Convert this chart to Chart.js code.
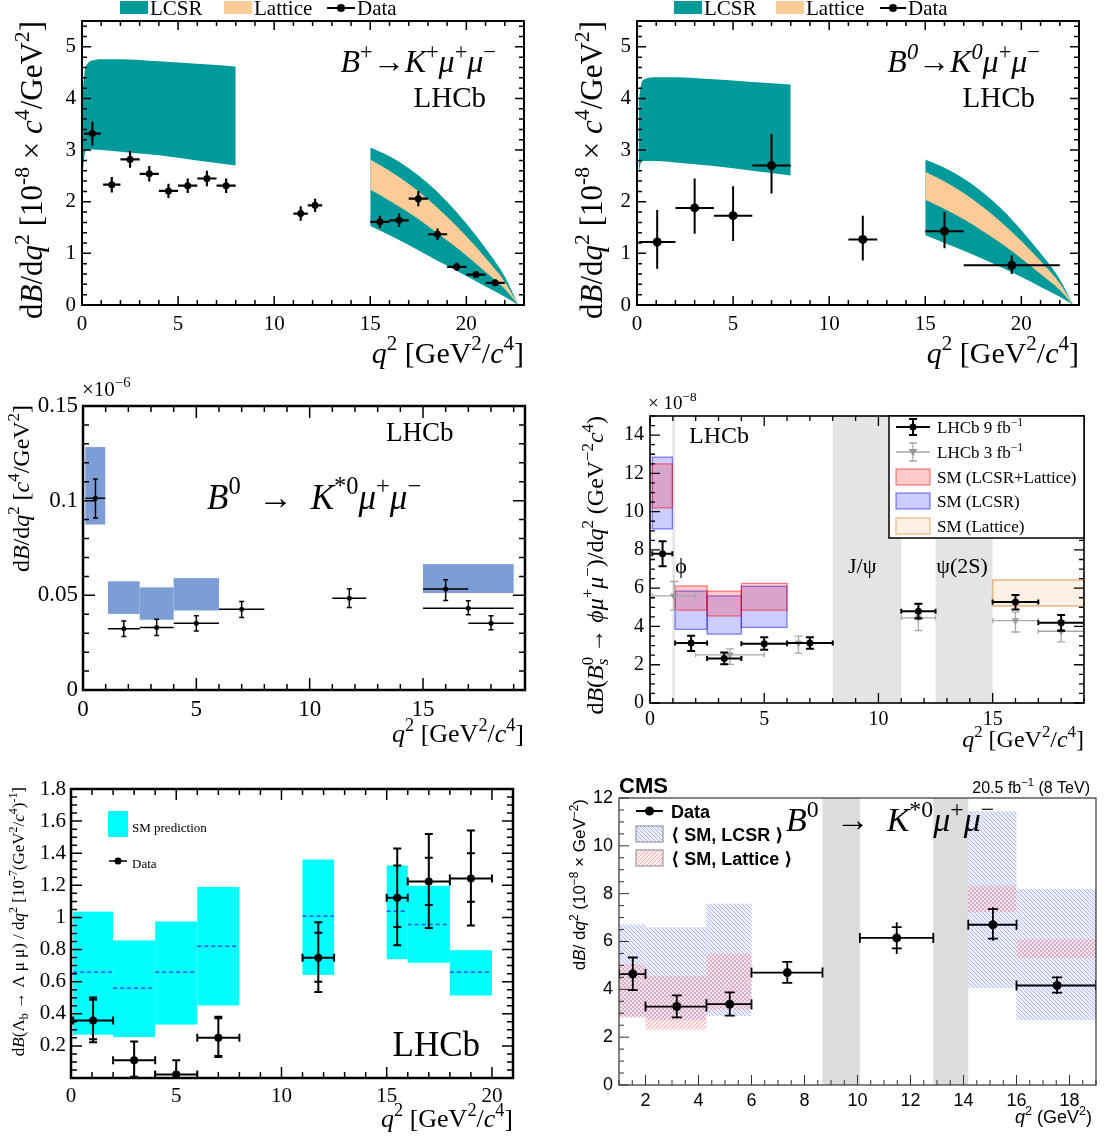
<!DOCTYPE html>
<html>
<head>
<meta charset="utf-8">
<title>Differential branching fractions of b to s mu mu decays</title>
<script src="https://cdn.jsdelivr.net/npm/chart.js"></script>
<style>
  body { margin: 0; background: #fff; }
  #page { position: relative; width: 1106px; height: 1138px; overflow: hidden; background: #fff; }
  canvas { position: absolute; }
</style>
</head>
<body>
<div id="page">
  <canvas id="c1" width="553" height="380" style="left:0;top:0"></canvas>
  <canvas id="c2" width="553" height="380" style="left:553px;top:0"></canvas>
  <canvas id="c3" width="553" height="380" style="left:0;top:375px"></canvas>
  <canvas id="c4" width="553" height="380" style="left:553px;top:375px"></canvas>
  <canvas id="c5" width="553" height="383" style="left:0;top:755px"></canvas>
  <canvas id="c6" width="553" height="383" style="left:553px;top:755px"></canvas>
</div>
<script>
const SERIF = '"Liberation Serif", "DejaVu Serif", serif';
const SANS = '"Liberation Sans", "DejaVu Sans", sans-serif';
const TEAL = '#009a9a';
const PEACH = '#fdcb98';

// ---------- B+ -> K+ mu mu (top left), units 1e-8
const bkX = [0.54, 1.55, 2.5, 3.5, 4.5, 5.5, 6.5, 7.5, 11.38, 12.13, 15.5, 16.5, 17.5, 18.5, 19.5, 20.5, 21.5];
const bkXLo = [0.1, 1.1, 2, 3, 4, 5, 6, 7, 11, 11.75, 15, 16, 17, 18, 19, 20, 21];
const bkXHi = [0.98, 2, 3, 4, 5, 6, 7, 8, 11.75, 12.5, 16, 17, 18, 19, 20, 21, 22];
const bkY = [3.32, 2.33, 2.82, 2.54, 2.21, 2.31, 2.45, 2.31, 1.77, 1.93, 1.61, 1.64, 2.06, 1.37, 0.74, 0.59, 0.43];
const bkErr = [0.23, 0.15, 0.16, 0.15, 0.14, 0.14, 0.15, 0.14, 0.14, 0.13, 0.12, 0.13, 0.15, 0.11, 0.08, 0.06, 0.06];
const bkLowQ = [0.05, 0.15, 0.3, 0.6, 1, 2, 4, 6, 8];
const bkLowHi = [4.2, 4.55, 4.68, 4.74, 4.76, 4.76, 4.72, 4.67, 4.62];
const bkLowLo = [2.6, 2.95, 3.0, 3.01, 3.0, 2.97, 2.9, 2.8, 2.7];
const bkHighQ = [15, 16, 17, 18, 19, 20, 21, 22, 22.7];
const bkOutHi = [3.05, 2.88, 2.65, 2.36, 2.0, 1.58, 1.1, 0.55, 0];
const bkLatHi = [2.82, 2.6, 2.35, 2.05, 1.71, 1.33, 0.91, 0.45, 0];
const bkLatLo = [2.23, 2.02, 1.79, 1.53, 1.25, 0.96, 0.64, 0.31, 0];
const bkOutLo = [1.53, 1.35, 1.16, 0.96, 0.76, 0.56, 0.36, 0.16, 0];

// ---------- B0 -> K0 mu mu (top right)
const k0X = [1.05, 3, 5, 7, 11.75, 16, 19.5];
const k0XLo = [0.1, 2, 4, 6, 11, 15, 17];
const k0XHi = [2, 4, 6, 8, 12.5, 17, 22];
const k0Y = [1.22, 1.88, 1.73, 2.70, 1.27, 1.43, 0.77];
const k0YHi = [1.84, 2.45, 2.30, 3.31, 1.73, 1.80, 0.96];
const k0YLo = [0.70, 1.38, 1.24, 2.16, 0.86, 1.10, 0.60];
const k0LowQ = [0.1, 0.2, 0.4, 1, 2, 4, 6, 8];
const k0LowHi = [3.95, 4.25, 4.37, 4.41, 4.41, 4.37, 4.32, 4.27];
const k0LowLo = [2.55, 2.75, 2.79, 2.79, 2.76, 2.69, 2.6, 2.51];
const k0HighQ = [15, 16, 17, 18, 19, 20, 21, 22, 22.7];
const k0OutHi = [2.82, 2.66, 2.45, 2.18, 1.85, 1.45, 1.0, 0.5, 0];
const k0LatHi = [2.58, 2.39, 2.17, 1.9, 1.59, 1.24, 0.85, 0.42, 0];
const k0LatLo = [2.04, 1.86, 1.66, 1.43, 1.18, 0.9, 0.6, 0.29, 0];
const k0OutLo = [1.35, 1.2, 1.05, 0.89, 0.72, 0.54, 0.35, 0.16, 0];

// ---------- B0 -> K*0 mu mu LHCb (middle left), units 1e-6
const ksX = [0.55, 1.8, 3.25, 5, 7, 11.75, 16, 17, 18];
const ksXLo = [0.1, 1.1, 2.5, 4, 6, 11, 15, 15, 17];
const ksXHi = [0.98, 2.5, 4, 6, 8, 12.5, 17, 19, 19];
const ksY = [0.1013, 0.0323, 0.0330, 0.0353, 0.0427, 0.0485, 0.0533, 0.0432, 0.0353];
const ksYHi = [0.1115, 0.0365, 0.0374, 0.0392, 0.0468, 0.0535, 0.0582, 0.0471, 0.0392];
const ksYLo = [0.0909, 0.0282, 0.0288, 0.0312, 0.0383, 0.0436, 0.0473, 0.0397, 0.0318];
const ksSmXLo = [0.1, 1.1, 2.5, 4, 15];
const ksSmXHi = [0.98, 2.5, 4, 6, 19];
const ksSmLo = [0.0874, 0.0402, 0.0371, 0.0420, 0.0512];
const ksSmHi = [0.1283, 0.0574, 0.0542, 0.0591, 0.0665];

// ---------- Bs -> phi mu mu (middle right), units 1e-8
const phX = [0.55, 1.8, 3.25, 5, 7, 11.75, 16, 18];
const phXLo = [0.1, 1.1, 2.5, 4, 6, 11, 15, 17];
const phXHi = [0.98, 2.5, 4, 6, 8, 12.5, 17, 19];
const phY = [7.8, 3.13, 2.32, 3.10, 3.13, 4.79, 5.28, 4.19];
const phYHi = [8.45, 3.52, 2.64, 3.43, 3.43, 5.19, 5.65, 4.6];
const phYLo = [7.15, 2.72, 2.02, 2.78, 2.83, 4.42, 4.89, 3.78];
const ph3X = [1.05, 3.5, 6.5, 11.75, 16, 18];
const ph3XLo = [0.1, 2, 5, 11, 15, 17];
const ph3XHi = [2, 5, 8, 12.5, 17, 19];
const ph3Y = [5.6, 2.52, 3.13, 4.45, 4.31, 3.75];
const ph3YHi = [6.35, 2.83, 3.49, 5.16, 4.75, 4.31];
const ph3YLo = [4.85, 2.02, 2.61, 3.79, 3.71, 3.19];
const phSmXLo = [0.1, 1.1, 2.5, 4];
const phSmXHi = [0.98, 2.5, 4, 6];
const phBothLo = [10.2, 4.85, 4.55, 4.85];
const phBothHi = [12.5, 6.12, 5.85, 6.25];
const phLcsrLo = [9.1, 3.85, 3.6, 3.95];
const phLcsrHi = [12.85, 5.85, 5.6, 6.1];
const phLatBin = [15, 19];
const phLatRange = [5.07, 6.43];
const phVetoLo = [0.98, 8, 12.5];
const phVetoHi = [1.1, 11, 15];

// ---------- Lambda_b -> Lambda mu mu (bottom left), units 1e-7
const lbSmXLo = [0.1, 2, 4, 6, 11, 15, 16, 18];
const lbSmXHi = [2, 4, 6, 8, 12.5, 16, 18, 20];
const lbSmLo = [0.27, 0.255, 0.333, 0.452, 0.642, 0.740, 0.718, 0.514];
const lbSmHi = [1.036, 0.857, 0.975, 1.19, 1.361, 1.324, 1.197, 0.796];
const lbSmMid = [0.658, 0.559, 0.658, 0.82, 1.008, 1.038, 0.956, 0.658];
const lbX = [1.05, 3, 5, 7, 11.75, 15.5, 17, 19];
const lbXLo = [0.1, 2, 4, 6, 11, 15, 16, 18];
const lbXHi = [2, 4, 6, 8, 12.5, 16, 18, 20];
const lbY = [0.358, 0.11, 0.022, 0.251, 0.749, 1.123, 1.224, 1.242];
const lbTotHi = [0.502, 0.228, 0.11, 0.382, 0.97, 1.429, 1.52, 1.542];
const lbTotLo = [0.222, 0.008, 0, 0.131, 0.535, 0.827, 0.934, 0.95];
const lbStatHi = [0.487, 0.228, 0.11, 0.372, 0.905, 1.324, 1.372, 1.40];
const lbStatLo = [0.241, 0.008, 0, 0.137, 0.60, 0.94, 1.078, 1.098];

// ---------- CMS B0 -> K*0 mu mu (bottom right), units 1e-8
const cmsX = [1.52, 3.18, 5.18, 7.35, 11.48, 15.11, 17.53];
const cmsXLo = [1, 2, 4.3, 6, 10.09, 14.18, 16];
const cmsXHi = [2, 4.3, 6, 8.68, 12.86, 16, 19];
const cmsY = [4.64, 3.28, 3.38, 4.70, 6.15, 6.70, 4.16];
const cmsTotLo = [3.97, 2.83, 2.90, 4.27, 5.48, 6.03, 3.80];
const cmsTotHi = [5.33, 3.75, 3.87, 5.15, 6.80, 7.43, 4.55];
const cmsStatLo = [3.97, 2.83, 2.90, 4.27, 5.71, 6.12, 3.86];
const cmsStatHi = [5.33, 3.75, 3.87, 5.15, 6.60, 7.35, 4.50];
const cmsSmXLo = [1, 2, 4.3, 14.18, 16];
const cmsSmXHi = [2, 4.3, 6, 16, 19];
const cmsLcsrLo = [2.87, 2.72, 2.88, 4.06, 2.72];
const cmsLcsrHi = [6.72, 6.60, 7.58, 11.45, 8.20];
const cmsLatLo = [2.82, 2.32, 3.15, 7.22, 5.31];
const cmsLatHi = [5.05, 4.55, 5.50, 8.34, 6.10];
const cmsVetoLo = [8.68, 12.86];
const cmsVetoHi = [10.09, 14.18];

// tick labels
const q23Ticks = [0, 5, 10, 15, 20];
const bkYTicks = [0, 1, 2, 3, 4, 5];
const ksYTicks = [0, 0.05, 0.1, 0.15];
const phXTicks = [0, 5, 10, 15];
const phYTicks = [0, 2, 4, 6, 8, 10, 12, 14];
const lbYTicks = [0.2, 0.4, 0.6, 0.8, 1, 1.2, 1.4, 1.6, 1.8];
const cmsXTicks = [2, 4, 6, 8, 10, 12, 14, 16, 18];
const cmsYTicks = [0, 2, 4, 6, 8, 10, 12];

Chart.defaults.font.family = SERIF;
Chart.defaults.color = '#000';

// small rich-text writer: {i:..} italic, {^:..} sup, {_:..} sub, z = no advance
function parseRich(s) {
    const out = [];
    const re = /\{([ib^_z]+):([^}]*)\}/g;
    let last = 0, m;
    while ((m = re.exec(s))) {
        if (m.index > last) out.push([s.slice(last, m.index), '']);
        out.push([m[2], m[1]]);
        last = re.lastIndex;
    }
    if (last < s.length) out.push([s.slice(last), '']);
    return out;
}

function rich(ctx, s, x, y, o) {
    const fam = o.family || SERIF, size = o.size;
    const font = fl => (fl.includes('i') ? 'italic ' : '') + (o.bold || fl.includes('b') ? 'bold ' : '') +
        ((fl.includes('^') || fl.includes('_')) ? size * 0.7 : size) + 'px ' + fam;
    const parts = parseRich(s);
    ctx.save();
    let w = 0;
    parts.forEach(p => {
        ctx.font = font(p[1]);
        p.w = ctx.measureText(p[0]).width;
        if (!p[1].includes('z')) w += p.w;
    });
    ctx.translate(x, y);
    if (o.rot) ctx.rotate(-Math.PI / 2);
    ctx.fillStyle = o.color || '#000';
    ctx.textAlign = 'left';
    ctx.textBaseline = 'alphabetic';
    let cx = o.align === 'right' ? -w : o.align === 'center' ? -w / 2 : 0;
    parts.forEach(p => {
        ctx.font = font(p[1]);
        const dy = p[1].includes('^') ? -size * 0.42 : p[1].includes('_') ? size * 0.22 : 0;
        ctx.fillText(p[0], cx, dy);
        if (!p[1].includes('z')) cx += p.w;
    });
    ctx.restore();
}

function steps(min, max, st) {
    const out = [];
    for (let n = Math.ceil(min / st - 1e-9); n <= Math.floor(max / st + 1e-9); n++) out.push(n * st);
    return out;
}
const isMajor = (v, M) => Math.abs(v / M - Math.round(v / M)) < 1e-6;

function frame(c, f) {
    const { ctx, chartArea: a, scales: { x, y } } = c;
    ctx.save();
    ctx.strokeStyle = f.color || '#000';
    ctx.lineWidth = f.tw;
    ctx.beginPath();
    steps(x.min, x.max, f.xm).forEach(v => {
        const L = isMajor(v, f.xM) ? f.big : f.small, p = x.getPixelForValue(v);
        ctx.moveTo(p, a.bottom); ctx.lineTo(p, a.bottom - L);
        if (f.all) { ctx.moveTo(p, a.top); ctx.lineTo(p, a.top + L); }
    });
    steps(y.min, y.max, f.ym).forEach(v => {
        const L = isMajor(v, f.yM) ? f.big : f.small, p = y.getPixelForValue(v);
        ctx.moveTo(a.left, p); ctx.lineTo(a.left + L, p);
        if (f.all) { ctx.moveTo(a.right, p); ctx.lineTo(a.right - L, p); }
    });
    ctx.stroke();
    ctx.lineWidth = f.w;
    ctx.strokeRect(a.left, a.top, a.right - a.left, a.bottom - a.top);
    ctx.restore();
}

function clipArea(c, fn) {
    const { ctx, chartArea: a } = c;
    ctx.save();
    ctx.beginPath();
    ctx.rect(a.left, a.top, a.right - a.left, a.bottom - a.top);
    ctx.clip();
    fn(ctx);
    ctx.restore();
}

function box(c, x0, x1, y0, y1, fill, stroke, lw) {
    const { ctx, scales: { x, y } } = c;
    const L = x.getPixelForValue(x0), R = x.getPixelForValue(x1);
    const T = y.getPixelForValue(y1), B = y.getPixelForValue(y0);
    if (fill) { ctx.fillStyle = fill; ctx.fillRect(L, T, R - L, B - T); }
    if (stroke) { ctx.strokeStyle = stroke; ctx.lineWidth = lw || 1; ctx.strokeRect(L, T, R - L, B - T); }
}

function errBars(c, ds) {
    const e = ds.err, { x, y } = c.scales;
    clipArea(c, ctx => {
        ctx.strokeStyle = e.color;
        ctx.lineWidth = e.lw;
        ctx.beginPath();
        ds.data.forEach((p, i) => {
            const px = x.getPixelForValue(p.x), py = y.getPixelForValue(p.y);
            const l = x.getPixelForValue(e.xLo[i]), r = x.getPixelForValue(e.xHi[i]);
            ctx.moveTo(l, py); ctx.lineTo(r, py);
            ctx.moveTo(px, y.getPixelForValue(e.yHi[i])); ctx.lineTo(px, y.getPixelForValue(e.yLo[i]));
            if (e.capX) {
                ctx.moveTo(l, py - e.capX); ctx.lineTo(l, py + e.capX);
                ctx.moveTo(r, py - e.capX); ctx.lineTo(r, py + e.capX);
            }
            if (e.capY) {
                let marks = e.endCaps ? [e.yLo[i], e.yHi[i]] : [];
                if (e.inLo) marks = marks.concat([e.inLo[i], e.inHi[i]]);
                marks.forEach(v => {
                    const q = y.getPixelForValue(v);
                    ctx.moveTo(px - e.capY, q); ctx.lineTo(px + e.capY, q);
                });
            }
        });
        ctx.stroke();
    });
}

function points(xs, ys, r, color, err, extra) {
    return Object.assign({
        type: 'scatter',
        data: xs.map((x, i) => ({ x, y: ys[i] })),
        pointRadius: r, pointBackgroundColor: color, pointBorderColor: color, pointBorderWidth: 0,
        showLine: false, err
    }, extra || {});
}

function band(xs, ys, color) {
    return {
        type: 'line',
        data: xs.map((x, i) => ({ x, y: ys[i] })),
        borderColor: 'rgba(0,0,0,0)', borderWidth: 0, pointRadius: 0,
        backgroundColor: color || 'rgba(0,0,0,0)',
        fill: color ? '+1' : false,
        cubicInterpolationMode: 'monotone'
    };
}

function axis(min, max, ticks, font, pad, fit) {
    return {
        type: 'linear', min, max,
        grid: { display: false, drawTicks: false },
        border: { display: false },
        afterFit: fit,
        afterBuildTicks: s => { s.ticks = ticks.map(v => ({ value: v })); },
        ticks: { font, color: '#000', padding: pad, maxRotation: 0, autoSkip: false, callback: v => String(v) }
    };
}

function panel(id, o) {
    return new Chart(document.getElementById(id), {
        type: 'scatter',
        data: { datasets: o.datasets },
        options: {
            responsive: false,
            animation: false,
            events: [],
            layout: { padding: { left: 0, top: o.top, right: o.right, bottom: 0 } },
            plugins: { legend: { display: false }, tooltip: { enabled: false } },
            scales: {
                x: axis(o.xMin, o.xMax, o.xTicks, o.font, o.xPad, s => { s.height = o.xH; }),
                y: axis(o.yMin, o.yMax, o.yTicks, o.font, o.yPad, s => { s.width = o.left; })
            }
        },
        plugins: [{
            id: 'decor',
            beforeDatasetsDraw: c => { if (o.under) clipArea(c, () => o.under(c)); },
            beforeDatasetDraw: (c, a) => {
                const ds = c.data.datasets[a.index];
                if (ds.err) errBars(c, ds);
            },
            afterDatasetsDraw: c => frame(c, o.frame),
            afterDraw: c => { if (o.over) o.over(c, c.ctx); }
        }]
    });
}

function legendLine(ctx, x0, x1, y, r, color, lw) {
    ctx.save();
    ctx.strokeStyle = color; ctx.fillStyle = color; ctx.lineWidth = lw || 2;
    ctx.beginPath(); ctx.moveTo(x0, y); ctx.lineTo(x1, y); ctx.stroke();
    ctx.beginPath(); ctx.arc((x0 + x1) / 2, y, r, 0, Math.PI * 2); ctx.fill();
    ctx.restore();
}

// diagonal hatch tile with a faint tint so the colour survives downsampling
function hatch(color, tint, dir) {
    const s = 4, cv = document.createElement('canvas');
    cv.width = cv.height = s;
    const g = cv.getContext('2d');
    g.fillStyle = tint; g.fillRect(0, 0, s, s);
    g.strokeStyle = color; g.lineWidth = 0.8;
    g.beginPath();
    if (dir > 0) {
        g.moveTo(-1, s + 1); g.lineTo(s + 1, -1);
        g.moveTo(-1, 1); g.lineTo(1, -1);
        g.moveTo(s - 1, s + 1); g.lineTo(s + 1, s - 1);
    } else {
        g.moveTo(-1, -1); g.lineTo(s + 1, s + 1);
        g.moveTo(s - 1, -1); g.lineTo(s + 1, 1);
        g.moveTo(-1, s - 1); g.lineTo(1, s + 1);
    }
    g.stroke();
    return g.createPattern(cv, 'repeat');
}

const Q2_TITLE = '{i:q}{^:2} [GeV{^:2}/{i:c}{^:4}]';
const BR_TITLE = 'd{i:B}/d{i:q}{^:2} [10{^:-8} × {i:c}{^:4}/GeV{^:2}]';
const ARROW = '\u2002→\u2002';
const serifFrame = { xm: 1, xM: 5, ym: 0.2, yM: 1, big: 9, small: 5, tw: 1.5, w: 2, all: true };

// ---------- panel 1
panel('c1', {
    top: 21, right: 29, left: 82, xH: 75,
    xMin: 0, xMax: 23, yMin: 0, yMax: 5.5,
    xTicks: q23Ticks, yTicks: bkYTicks,
    font: { family: SERIF, size: 21 }, xPad: 7, yPad: 6,
    frame: serifFrame,
    datasets: [
        points(bkX, bkY, 3.5, '#000', {
            xLo: bkXLo, xHi: bkXHi,
            yLo: bkY.map((v, i) => v - bkErr[i]), yHi: bkY.map((v, i) => v + bkErr[i]),
            color: '#000', lw: 2.2
        }),
        band(bkHighQ, bkLatHi, PEACH), band(bkHighQ, bkLatLo),
        band(bkLowQ, bkLowHi, TEAL), band(bkLowQ, bkLowLo),
        band(bkHighQ, bkOutHi, TEAL), band(bkHighQ, bkOutLo)
    ],
    over: (c, ctx) => {
        ctx.fillStyle = TEAL; ctx.fillRect(120, 1, 28, 13);
        rich(ctx, 'LCSR', 150, 15, { size: 21 });
        ctx.fillStyle = PEACH; ctx.fillRect(224, 1, 28, 13);
        rich(ctx, 'Lattice', 254, 15, { size: 21 });
        legendLine(ctx, 327, 355, 8, 4, '#000');
        rich(ctx, 'Data', 357, 15, { size: 21 });
        rich(ctx, '{i:B}{^:+}→{i:K}{^:+}{i:μ}{^:+}{i:μ}{^:−}', 496, 72, { size: 32, align: 'right' });
        rich(ctx, 'LHCb', 486, 107, { size: 29, align: 'right' });
        rich(ctx, BR_TITLE, 42, 21, { size: 31, rot: true, align: 'right' });
        rich(ctx, Q2_TITLE, 524, 363, { size: 30, align: 'right' });
    }
});

// ---------- panel 2
panel('c2', {
    top: 21, right: 27, left: 84, xH: 75,
    xMin: 0, xMax: 23, yMin: 0, yMax: 5.5,
    xTicks: q23Ticks, yTicks: bkYTicks,
    font: { family: SERIF, size: 21 }, xPad: 7, yPad: 6,
    frame: serifFrame,
    datasets: [
        points(k0X, k0Y, 4.5, '#000', { xLo: k0XLo, xHi: k0XHi, yLo: k0YLo, yHi: k0YHi, color: '#000', lw: 2 }),
        band(k0HighQ, k0LatHi, PEACH), band(k0HighQ, k0LatLo),
        band(k0LowQ, k0LowHi, TEAL), band(k0LowQ, k0LowLo),
        band(k0HighQ, k0OutHi, TEAL), band(k0HighQ, k0OutLo)
    ],
    over: (c, ctx) => {
        ctx.fillStyle = TEAL; ctx.fillRect(121, 1, 28, 13);
        rich(ctx, 'LCSR', 151, 15, { size: 21 });
        ctx.fillStyle = PEACH; ctx.fillRect(223, 1, 28, 13);
        rich(ctx, 'Lattice', 253, 15, { size: 21 });
        legendLine(ctx, 327, 353, 8, 4, '#000');
        rich(ctx, 'Data', 355, 15, { size: 21 });
        rich(ctx, '{i:B}{^i:0}→{i:K}{^i:0}{i:μ}{^:+}{i:μ}{^:−}', 487, 72, { size: 32, align: 'right' });
        rich(ctx, 'LHCb', 482, 107, { size: 29, align: 'right' });
        rich(ctx, BR_TITLE, 49, 21, { size: 31, rot: true, align: 'right' });
        rich(ctx, Q2_TITLE, 526, 363, { size: 30, align: 'right' });
    }
});

// ---------- panel 3
panel('c3', {
    top: 31, right: 28, left: 83, xH: 65,
    xMin: 0, xMax: 19.5, yMin: 0, yMax: 0.15,
    xTicks: [0, 5, 10, 15], yTicks: ksYTicks,
    font: { family: SERIF, size: 23 }, xPad: 6, yPad: 5,
    frame: { xm: 1, xM: 5, ym: 0.01, yM: 0.05, big: 12, small: 6, tw: 1.5, w: 2.5, all: true },
    datasets: [
        points(ksX, ksY, 2.5, '#000', { xLo: ksXLo, xHi: ksXHi, yLo: ksYLo, yHi: ksYHi, color: '#000', lw: 1.5, capY: 2.5, endCaps: true })
    ],
    under: c => {
        ksSmXLo.forEach((x0, i) => box(c, x0, ksSmXHi[i], ksSmLo[i], ksSmHi[i], '#7d9dd6'));
    },
    over: (c, ctx) => {
        rich(ctx, '×10{^:−6}', 82, 21, { size: 21 });
        rich(ctx, 'LHCb', 386, 66, { size: 27 });
        rich(ctx, '{i:B}{^:0}' + ARROW + '{i:K}{^:*0}{i:μ}{^:+}{i:μ}{^:−}', 207, 134, { size: 35 });
        rich(ctx, 'd{i:B}/d{i:q}{^:2} [{i:c}{^:4}/GeV{^:2}]', 29, 30, { size: 24, rot: true, align: 'right' });
        rich(ctx, Q2_TITLE, 524, 367, { size: 26, align: 'right' });
    }
});

// ---------- panel 4
const RED_F = 'rgba(255,0,0,0.2)', RED_S = 'rgba(255,0,0,0.5)';
const BLUE_F = 'rgba(0,0,255,0.2)', BLUE_S = 'rgba(0,0,255,0.5)';
const LAT_F = 'rgba(250,215,180,0.35)', LAT_S = 'rgba(232,160,100,0.8)';
panel('c4', {
    top: 41, right: 22, left: 97, xH: 52,
    xMin: 0, xMax: 19, yMin: 0, yMax: 15,
    xTicks: phXTicks, yTicks: phYTicks,
    font: { family: SERIF, size: 20 }, xPad: 5, yPad: 6,
    frame: { xm: 1, xM: 5, ym: 0.5, yM: 2, big: 10, small: 5, tw: 1.3, w: 1.6, all: true },
    datasets: [
        points(phX, phY, 3.5, '#000', { xLo: phXLo, xHi: phXHi, yLo: phYLo, yHi: phYHi, color: '#000', lw: 2, capX: 2.5, capY: 4, endCaps: true }),
        points(ph3X, ph3Y, 4.5, '#9a9a9a', { xLo: ph3XLo, xHi: ph3XHi, yLo: ph3YLo, yHi: ph3YHi, color: '#a8a8a8', lw: 1.3, capX: 2.5, capY: 4, endCaps: true },
            { pointStyle: 'triangle', rotation: 180 })
    ],
    under: c => {
        phVetoLo.forEach((x0, i) => box(c, x0, phVetoHi[i], 0, 15, '#e4e4e4'));
        phSmXLo.forEach((x0, i) => box(c, x0, phSmXHi[i], phLcsrLo[i], phLcsrHi[i], BLUE_F, BLUE_S, 1.2));
        phSmXLo.forEach((x0, i) => box(c, x0, phSmXHi[i], phBothLo[i], phBothHi[i], RED_F, RED_S, 1.2));
        box(c, phLatBin[0], phLatBin[1], phLatRange[0], phLatRange[1], LAT_F, LAT_S, 1.5);
    },
    over: (c, ctx) => {
        const { x, y } = c.scales;
        rich(ctx, '× 10{^:−8}', 95, 34, { size: 19 });
        rich(ctx, 'LHCb', 136, 68, { size: 24 });
        rich(ctx, 'ϕ', x.getPixelForValue(1.1), y.getPixelForValue(6.8), { size: 22 });
        rich(ctx, 'J/ψ', x.getPixelForValue(8.67), y.getPixelForValue(6.8), { size: 22 });
        rich(ctx, 'ψ(2S)', x.getPixelForValue(12.53), y.getPixelForValue(6.8), { size: 22 });
        // legend
        ctx.save();
        ctx.fillStyle = '#fff'; ctx.fillRect(336, 41, 195, 122);
        ctx.strokeStyle = '#000'; ctx.lineWidth = 1.5; ctx.strokeRect(336, 41, 195, 122);
        ctx.lineWidth = 2; ctx.strokeStyle = '#000';
        ctx.beginPath();
        ctx.moveTo(343, 52); ctx.lineTo(377, 52);
        ctx.moveTo(360, 44); ctx.lineTo(360, 60);
        ctx.moveTo(356, 44); ctx.lineTo(364, 44); ctx.moveTo(356, 60); ctx.lineTo(364, 60);
        ctx.stroke();
        ctx.fillStyle = '#000'; ctx.beginPath(); ctx.arc(360, 52, 3.5, 0, Math.PI * 2); ctx.fill();
        ctx.lineWidth = 1.3; ctx.strokeStyle = '#a8a8a8';
        ctx.beginPath();
        ctx.moveTo(343, 77); ctx.lineTo(377, 77);
        ctx.moveTo(360, 68); ctx.lineTo(360, 86);
        ctx.moveTo(356, 68); ctx.lineTo(364, 68); ctx.moveTo(356, 86); ctx.lineTo(364, 86);
        ctx.stroke();
        ctx.fillStyle = '#9a9a9a';
        ctx.beginPath(); ctx.moveTo(355.5, 74); ctx.lineTo(364.5, 74); ctx.lineTo(360, 81); ctx.closePath(); ctx.fill();
        [[RED_F, RED_S, 94], [BLUE_F, BLUE_S, 118], [LAT_F, LAT_S, 143]].forEach(([f, s, top]) => {
            ctx.fillStyle = f; ctx.fillRect(343, top, 34, 16);
            ctx.strokeStyle = s; ctx.lineWidth = 1.2; ctx.strokeRect(343, top, 34, 16);
        });
        ctx.restore();
        rich(ctx, 'LHCb 9 fb{^:−1}', 384, 58, { size: 17 });
        rich(ctx, 'LHCb 3 fb{^:−1}', 384, 83, { size: 17 });
        rich(ctx, 'SM (LCSR+Lattice)', 384, 108, { size: 17 });
        rich(ctx, 'SM (LCSR)', 384, 132, { size: 17 });
        rich(ctx, 'SM (Lattice)', 384, 157, { size: 17 });
        rich(ctx, 'd{i:B}({i:B}{^z:0}{_i:s} → {i:ϕ}{i:μ}{^:+}{i:μ}{^:−})/d{i:q}{^:2} (GeV{^:−2}{i:c}{^:4})', 50, 41, { size: 24, rot: true, align: 'right' });
        rich(ctx, Q2_TITLE, 531, 372, { size: 24, align: 'right' });
    }
});

// ---------- panel 5
panel('c5', {
    top: 34, right: 40, left: 71, xH: 60,
    xMin: 0, xMax: 21, yMin: 0, yMax: 1.8,
    xTicks: q23Ticks, yTicks: lbYTicks,
    font: { family: SERIF, size: 21 }, xPad: 6, yPad: 5,
    frame: { xm: 1, xM: 5, ym: 0.05, yM: 0.2, big: 11, small: 6, tw: 1.5, w: 2.5, all: true },
    datasets: [
        points(lbX, lbY, 4, '#000', {
            xLo: lbXLo, xHi: lbXHi, yLo: lbTotLo, yHi: lbTotHi, inLo: lbStatLo, inHi: lbStatHi,
            color: '#000', lw: 2, capX: 4, capY: 4, endCaps: true
        })
    ],
    under: c => {
        lbSmXLo.forEach((x0, i) => box(c, x0, lbSmXHi[i], lbSmLo[i], lbSmHi[i], '#00ffff'));
        const { ctx, scales: { x, y } } = c;
        ctx.save();
        ctx.strokeStyle = '#3050ff'; ctx.lineWidth = 1.5; ctx.setLineDash([4, 3]);
        ctx.beginPath();
        lbSmXLo.forEach((x0, i) => {
            const py = y.getPixelForValue(lbSmMid[i]);
            ctx.moveTo(x.getPixelForValue(x0), py); ctx.lineTo(x.getPixelForValue(lbSmXHi[i]), py);
        });
        ctx.stroke();
        ctx.restore();
    },
    over: (c, ctx) => {
        ctx.fillStyle = '#00ffff'; ctx.fillRect(108, 56, 20, 26);
        rich(ctx, 'SM prediction', 132, 77, { size: 13 });
        legendLine(ctx, 109, 127, 106, 3.5, '#000', 1.5);
        rich(ctx, 'Data', 132, 113, { size: 13 });
        rich(ctx, 'LHCb', 480, 301, { size: 35, align: 'right' });
        rich(ctx, 'd{i:B}(Λ{_:b} → Λ μ μ) / d{i:q}{^:2} [10{^:-7}(GeV{^:2}/{i:c}{^:4}){^:-1}]', 24, 32, { size: 17, rot: true, align: 'right' });
        rich(ctx, Q2_TITLE, 513, 372, { size: 26, align: 'right' });
    }
});

// ---------- panel 6
const BLUE_H = hatch('rgba(110,125,245,0.7)', 'rgba(205,210,252,0.3)', -1);
const RED_H = hatch('rgba(245,110,110,0.7)', 'rgba(255,210,210,0.35)', 1);
panel('c6', {
    top: 43, right: 10, left: 66, xH: 53,
    xMin: 1, xMax: 19, yMin: 0, yMax: 12,
    xTicks: cmsXTicks, yTicks: cmsYTicks,
    font: { family: SANS, size: 18 }, xPad: 5, yPad: 6,
    frame: { xm: 0.5, xM: 2, ym: 0.5, yM: 2, big: 10, small: 5, tw: 1, w: 1.2, color: '#333', all: false },
    datasets: [
        points(cmsX, cmsY, 4.5, '#000', {
            xLo: cmsXLo, xHi: cmsXHi, yLo: cmsTotLo, yHi: cmsTotHi, inLo: cmsStatLo, inHi: cmsStatHi,
            color: '#000', lw: 1.8, capX: 5, capY: 5, endCaps: false
        })
    ],
    under: c => {
        cmsVetoLo.forEach((x0, i) => box(c, x0, cmsVetoHi[i], 0, 12, '#dcdcdc'));
        cmsSmXLo.forEach((x0, i) => box(c, x0, cmsSmXHi[i], cmsLcsrLo[i], cmsLcsrHi[i], BLUE_H));
        cmsSmXLo.forEach((x0, i) => box(c, x0, cmsSmXHi[i], cmsLatLo[i], cmsLatHi[i], RED_H));
    },
    over: (c, ctx) => {
        rich(ctx, 'CMS', 66, 38, { size: 22, family: SANS, bold: true });
        rich(ctx, '20.5 fb{^:−1} (8 TeV)', 537, 38, { size: 16, family: SANS, align: 'right' });
        rich(ctx, '{i:B}{^:0}' + ARROW + '{i:K}{^:*0}{i:μ}{^:+}{i:μ}{^:−}', 233, 76, { size: 34 });
        legendLine(ctx, 83, 110, 56, 4.5, '#000', 2);
        rich(ctx, 'Data', 118, 63, { size: 18, family: SANS, bold: true });
        ctx.save();
        ctx.fillStyle = BLUE_H; ctx.fillRect(83, 71, 27, 16);
        ctx.fillStyle = RED_H; ctx.fillRect(83, 95, 27, 16);
        ctx.strokeStyle = '#888'; ctx.lineWidth = 1;
        ctx.strokeRect(83, 71, 27, 16); ctx.strokeRect(83, 95, 27, 16);
        ctx.restore();
        rich(ctx, '⟨ SM, LCSR ⟩', 118, 86, { size: 18, family: SANS, bold: true });
        rich(ctx, '⟨ SM, Lattice ⟩', 118, 110, { size: 18, family: SANS, bold: true });
        rich(ctx, 'd{i:B}/ d{i:q}{^:2} (10{^:−8} × GeV{^:−2})', 32, 44, { size: 17, family: SANS, rot: true, align: 'right' });
        rich(ctx, '{i:q}{^:2} (GeV{^:2})', 539, 368, { size: 18, family: SANS, align: 'right' });
    }
});
</script>
</body>
</html>
